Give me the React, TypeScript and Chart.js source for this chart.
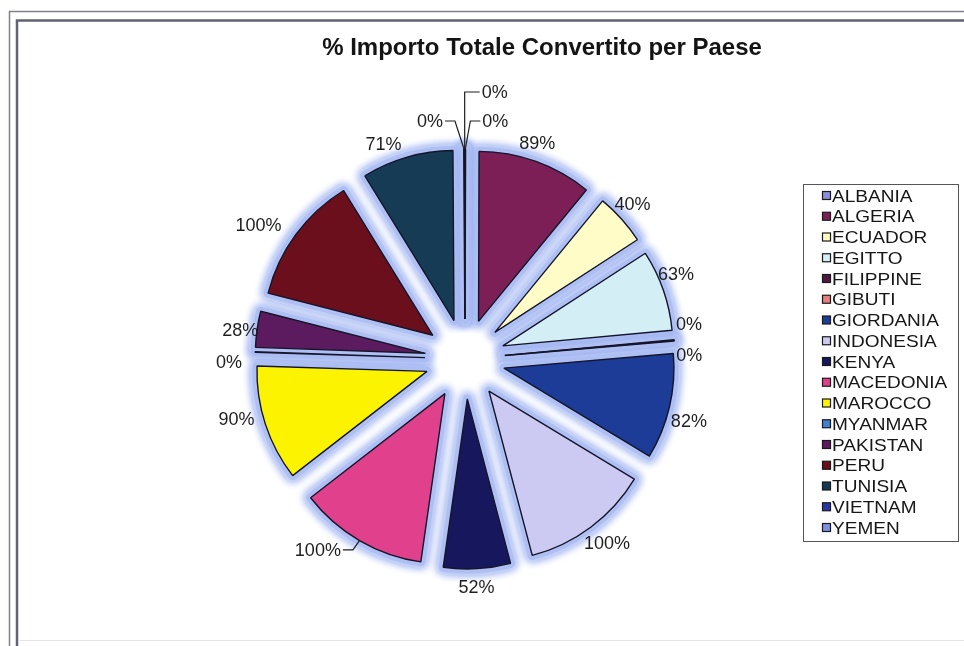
import React, { useEffect, useRef } from 'react';
import { Chart, registerables } from 'chart.js';

Chart.register(...registerables);

// ---- data ----
const chartTitle = '% Importo Totale Convertito per Paese';
const countries = [
  'ALBANIA', 'ALGERIA', 'ECUADOR', 'EGITTO', 'FILIPPINE', 'GIBUTI', 'GIORDANIA',
  'INDONESIA', 'KENYA', 'MACEDONIA', 'MAROCCO', 'MYANMAR', 'PAKISTAN', 'PERU',
  'TUNISIA', 'VIETNAM', 'YEMEN',
];
const percentConverted = [0, 89, 40, 63, 0, 0, 82, 100, 52, 100, 90, 0, 28, 100, 71, 0, 0];
const sliceColors = [
  '#8c8cd8', '#7c1f56', '#fffcc8', '#d4eef6', '#4e1840', '#e08080', '#1d3c98',
  '#cccaf2', '#17175e', '#e0408c', '#fbf300', '#4080d0', '#5c1b5e', '#6b0f1c',
  '#163b55', '#2838a0', '#8090e0',
];

// 0% countries still show as a hairline sliver in the original chart
const MIN_VISIBLE_SLICE = 0.4;
const FONT = '"Liberation Sans", Arial, Helvetica, sans-serif';

const frameAndTitle = {
  id: 'frameAndTitle',
  beforeDraw(chart: any) {
    const { ctx, width, height } = chart;
    ctx.save();
    ctx.fillStyle = '#ffffff';
    ctx.fillRect(0, 0, width, height);
    ctx.lineCap = 'butt';
    ctx.strokeStyle = '#80808f';
    ctx.lineWidth = 1.5;
    ctx.beginPath();
    ctx.moveTo(9.5, height);
    ctx.lineTo(9.5, 11.5);
    ctx.lineTo(width, 11.5);
    ctx.stroke();
    ctx.strokeStyle = '#626275';
    ctx.lineWidth = 2.5;
    ctx.beginPath();
    ctx.moveTo(17, height);
    ctx.lineTo(17, 20.5);
    ctx.lineTo(width, 20.5);
    ctx.stroke();
    ctx.strokeStyle = '#e4e4ec';
    ctx.lineWidth = 1;
    ctx.beginPath();
    ctx.moveTo(18, 640.5);
    ctx.lineTo(width, 640.5);
    ctx.stroke();
    ctx.restore();
  },
  afterDraw(chart: any) {
    const { ctx } = chart;
    ctx.save();
    // title
    ctx.fillStyle = '#141414';
    ctx.font = `bold 24px ${FONT}`;
    ctx.textAlign = 'center';
    ctx.textBaseline = 'middle';
    ctx.fillText(chartTitle, 542, 48);
    // legend box
    ctx.strokeStyle = '#555555';
    ctx.lineWidth = 1;
    ctx.strokeRect(803.5, 184.5, 155, 357);
    ctx.font = `17px ${FONT}`;
    ctx.textAlign = 'left';
    const labels = chart.data.labels as string[];
    const colors = chart.data.datasets[0].backgroundColor as string[];
    labels.forEach((lab, i) => {
      const y = 196 + i * 20.75;
      ctx.fillStyle = colors[i];
      ctx.fillRect(822.5, y - 4.5, 8, 8);
      ctx.strokeStyle = '#1a1a1a';
      ctx.lineWidth = 1.2;
      ctx.strokeRect(822.5, y - 4.5, 8, 8);
      ctx.fillStyle = '#161616';
      ctx.save();
      ctx.translate(832, y + 1);
      ctx.scale(1.12, 1);
      ctx.fillText(lab, 0, 0);
      ctx.restore();
    });
    ctx.restore();
  },
};

const explodePlugin = {
  id: 'explode',
  beforeDatasetDraw(chart: any, args: any, opts: any) {
    const { ctx } = chart;
    const arcs = args.meta.data;
    const d = opts.distance;
    ctx.save();
    for (let pass = 0; pass < 2; pass++) {
      for (const el of arcs) {
        const mid = (el.startAngle + el.endAngle) / 2;
        ctx.save();
        ctx.translate(Math.cos(mid) * d, Math.sin(mid) * d);
        ctx.beginPath();
        ctx.moveTo(el.x, el.y);
        ctx.arc(el.x, el.y, el.outerRadius, el.startAngle, el.endAngle);
        ctx.closePath();
        ctx.lineJoin = 'round';
        ctx.lineWidth = pass === 0 ? opts.glowWidth + 4 : opts.glowWidth;
        ctx.strokeStyle = pass === 0 ? opts.outerGlowColor : opts.glowColor;
        ctx.shadowColor = opts.shadowColor;
        ctx.shadowBlur = opts.shadowBlur;
        ctx.stroke();
        ctx.restore();
      }
    }
    for (const el of arcs) {
      const mid = (el.startAngle + el.endAngle) / 2;
      ctx.save();
      ctx.translate(Math.cos(mid) * d, Math.sin(mid) * d);
      el.draw(ctx);
      ctx.restore();
    }
    ctx.restore();
    return false;
  },
};

const labelPlugin = {
  id: 'sliceLabels',
  afterDatasetsDraw(chart: any, _args: any, opts: any) {
    const { ctx } = chart;
    const meta = chart.getDatasetMeta(0);
    const d = chart.options.plugins.explode.distance;
    ctx.save();
    ctx.font = `18px ${FONT}`;
    ctx.textAlign = 'center';
    ctx.textBaseline = 'middle';
    meta.data.forEach((el: any, i: number) => {
      const text = `${Math.round(percentConverted[i])}%`;
      const mid = (el.startAngle + el.endAngle) / 2;
      const c = Math.cos(mid), s = Math.sin(mid);
      const w = ctx.measureText(text).width;
      const h = 14;
      const rA = el.outerRadius + d + opts.gap;
      let lx = el.x + c * rA + (w / 2) * c;
      let ly = el.y + s * rA + (h / 2) * s;
      const nudge = opts.nudge[i];
      if (nudge) {
        lx += nudge[0];
        ly += nudge[1];
      }
      if (opts.leader.includes(i)) {
        const px = el.x + c * (el.outerRadius + d);
        const py = el.y + s * (el.outerRadius + d);
        const side = px < lx ? -1 : 1;
        const ex = lx + side * (w / 2 + 2);
        const steep = Math.abs(py - ly) > 3 * Math.abs(px - ex);
        const elbowX = steep ? px : ex + side * 10;
        ctx.strokeStyle = '#1e1e1e';
        ctx.lineWidth = 1.2;
        ctx.beginPath();
        ctx.moveTo(ex, ly);
        ctx.lineTo(elbowX, ly);
        ctx.lineTo(px, py);
        ctx.stroke();
      }
      ctx.fillStyle = '#1e1e1e';
      ctx.fillText(text, lx, ly + 1);
    });
    ctx.restore();
  },
};

export default function App() {
  const ref = useRef<HTMLCanvasElement>(null);
  useEffect(() => {
    const sliceData = percentConverted.map((v) => Math.max(v, MIN_VISIBLE_SLICE));
    const chart = new Chart(ref.current as HTMLCanvasElement, {
      type: 'pie',
      data: {
        labels: countries,
        datasets: [
          {
            data: sliceData,
            backgroundColor: sliceColors,
            borderColor: '#15152a',
            borderWidth: 1.4,
            hoverOffset: 0,
            offset: 0,
            radius: 170,
            clip: false,
          } as any,
        ],
      },
      options: {
        responsive: false,
        animation: false,
        events: [],
        layout: { padding: { left: 235, right: 269, top: 129, bottom: 57 } },
        plugins: {
          legend: { display: false },
          title: { display: false },
          tooltip: { enabled: false },
          explode: {
            distance: 40,
            glowWidth: 9,
            glowColor: '#aebff3',
            outerGlowColor: '#dbe3fa',
            shadowColor: '#9fb3f0',
            shadowBlur: 8,
          },
          sliceLabels: {
            gap: 6,
            nudge: {
              0: [30, -15],
              1: [-7, -6],
              2: [-7, -6],
              3: [-10, -12],
              4: [-4, -15],
              5: [-4, 15],
              6: [-4, 11],
              7: [-1, 5],
              8: [-2, 5],
              9: [-27, -2],
              10: [-6, -9],
              11: [-7, 10],
              12: [7, 3],
              13: [-14, -2],
              14: [-17, -1],
              15: [-34, -15],
              16: [30, -44],
            },
            leader: [0, 15, 16, 9],
          },
        } as any,
      },
      plugins: [frameAndTitle, explodePlugin, labelPlugin],
    });
    return () => chart.destroy();
  }, []);
  return (
    <div style={{ position: 'fixed', left: 0, top: 0, width: 964, height: 646, background: '#fff' }}>
      <canvas ref={ref} width={964} height={646} style={{ display: 'block', width: 964, height: 646 }} />
    </div>
  );
}
